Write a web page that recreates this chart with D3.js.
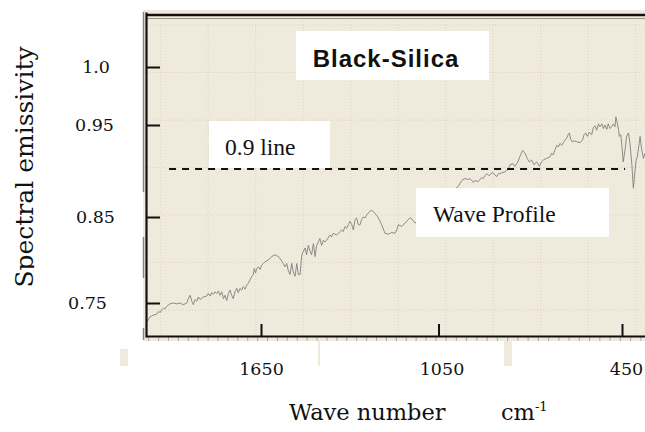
<!DOCTYPE html>
<html><head><meta charset="utf-8">
<script src="https://cdn.jsdelivr.net/npm/d3@7"></script>
<style>html,body{margin:0;padding:0;background:#fff;overflow:hidden}</style>
</head><body>
<svg id="c" width="645" height="432"></svg>
<script>
// ---- data ----
const chartTitle = "Black-Silica";
const seriesLabel = "Wave Profile";
const thresholdLabel = "0.9 line";
const yTitle = "Spectral emissivity";
const xTitle = "Wave number";
const xUnit = "cm";
const xUnitExp = "-1";
const yTickValues = [0.75, 0.85, 0.95, 1.0];
const yTickLabels = ["0.75", "0.85", "0.95", "1.0"];
const xTickValues = [1650, 1050, 450];
const xTickLabels = ["1650", "1050", "450"];
const thresholdValue = 0.9;
const thresholdFrom = 1961;
const thresholdTo = 440;
const waveNumber = [2036,2025,2014,2003,1997,1991,1986,1980,1975,1969,1958,1946,1935,1924,1913,1901,1896,1890,1884,1879,
1873,1867,1862,1856,1845,1834,1828,1822,1817,1811,1806,1800,1794,1789,1783,1777,1772,1766,1760,1755,
1749,1744,1738,1732,1727,1721,1715,1710,1704,1698,1693,1687,1681,1676,1673,1668,1665,1659,1653,1648,
1636,1625,1614,1603,1597,1592,1586,1575,1569,1563,1558,1552,1546,1541,1535,1529,1524,1518,1512,1507,
1501,1496,1490,1484,1479,1473,1467,1462,1456,1451,1445,1439,1434,1428,1417,1411,1406,1394,1383,1377,
1372,1366,1360,1355,1349,1343,1338,1332,1327,1321,1315,1310,1304,1298,1293,1282,1276,1265,1253,1242,
1231,1220,1208,1197,1191,1186,1174,1163,1152,1146,1141,1129,1112,1085,1058,1029,1006,985,980,971,
963,953,947,941,936,931,920,909,904,898,892,884,876,871,860,854,843,833,822,816,
807,800,792,784,775,767,760,753,745,738,729,720,713,705,696,685,680,675,669,663,
658,653,647,642,636,631,626,622,618,613,606,598,587,579,574,569,563,557,549,544,
538,533,527,522,516,511,506,500,495,489,484,478,473,470,465,461,459,454,450,446,
440,435,429,424,418,413,408,404,400,394,391,386,380,375];
const emissivity = [0.728,0.734,0.736,0.737,0.740,0.739,0.742,0.744,0.743,0.746,0.749,0.750,0.749,0.750,0.748,0.750,0.755,0.759,0.752,0.748,
0.754,0.752,0.757,0.754,0.757,0.758,0.761,0.758,0.762,0.760,0.763,0.761,0.764,0.759,0.763,0.755,0.759,0.753,0.761,0.765,
0.759,0.755,0.763,0.767,0.762,0.767,0.765,0.769,0.766,0.771,0.773,0.777,0.781,0.783,0.790,0.785,0.790,0.792,0.789,0.794,
0.798,0.800,0.804,0.806,0.805,0.804,0.802,0.796,0.792,0.796,0.788,0.783,0.796,0.786,0.781,0.796,0.783,0.783,0.806,0.810,
0.814,0.806,0.817,0.810,0.806,0.819,0.804,0.817,0.821,0.825,0.817,0.823,0.821,0.823,0.829,0.827,0.831,0.829,0.833,0.835,
0.833,0.839,0.837,0.841,0.845,0.841,0.835,0.847,0.849,0.841,0.841,0.847,0.850,0.849,0.852,0.856,0.857,0.854,0.849,0.841,
0.831,0.830,0.832,0.831,0.835,0.841,0.839,0.843,0.847,0.849,0.848,0.843,0.847,0.855,0.865,0.872,0.877,0.882,0.885,0.889,
0.890,0.889,0.890,0.888,0.886,0.888,0.887,0.891,0.890,0.893,0.895,0.893,0.896,0.896,0.892,0.895,0.896,0.897,0.900,0.905,
0.906,0.903,0.907,0.914,0.921,0.918,0.912,0.908,0.910,0.905,0.908,0.903,0.908,0.911,0.912,0.914,0.918,0.916,0.922,0.927,
0.925,0.929,0.927,0.930,0.933,0.935,0.939,0.941,0.934,0.931,0.932,0.931,0.930,0.933,0.939,0.941,0.937,0.942,0.939,0.947,
0.949,0.944,0.951,0.948,0.951,0.946,0.950,0.945,0.951,0.946,0.948,0.951,0.948,0.957,0.951,0.944,0.937,0.939,0.925,0.908,
0.922,0.937,0.941,0.929,0.906,0.880,0.897,0.910,0.914,0.929,0.937,0.922,0.912,0.918];

// ---- layout ----
const W = 645, H = 432;
const svg = d3.select("#c");
const x = d3.scaleLinear().domain([2039, 1650, 1050, 450, 375]).range([146, 261, 438.5, 622, 645]);
const y = d3.scaleLinear().domain([0.7105, 0.75, 0.85, 0.9, 0.95, 1.0, 1.0474]).range([337, 303, 217, 169, 125, 67, 12]);
const serif = "'DejaVu Serif', serif";
const times = "'Liberation Serif', 'Times New Roman', serif";

// paper background
svg.append("rect").attr("x", 143).attr("y", 10).attr("width", W - 143).attr("height", 331).attr("fill", "#f0eadc");
[[120, 349, 8, 17], [318, 341, 2, 25], [504, 341, 8, 25]].forEach(r =>
  svg.append("rect").attr("x", r[0]).attr("y", r[1]).attr("width", r[2]).attr("height", r[3]).attr("fill", "#f0eadc"));

// faint dotted grid of the paper
const grid = svg.append("g").attr("stroke", "#d3cbb9").attr("stroke-width", 0.8).attr("stroke-dasharray", "1,2");
d3.range(160.7, W, 47.5).forEach(gx => grid.append("line").attr("x1", gx).attr("x2", gx).attr("y1", 18).attr("y2", 336));
d3.range(25, 336, 47.5).forEach(gy => grid.append("line").attr("x1", 147).attr("x2", W).attr("y1", gy).attr("y2", gy));

// series line
const pts = waveNumber.map((w, i) => [w, emissivity[i]]);
svg.append("path").datum(pts)
  .attr("d", d3.line().x(d => x(d[0])).y(d => y(d[1])))
  .attr("fill", "none").attr("stroke", "#808080").attr("stroke-width", 0.9).attr("stroke-linejoin", "round");

// white label boxes
function box(x0, y0, x1, y1) {
  svg.append("rect").attr("x", x0).attr("y", y0).attr("width", x1 - x0).attr("height", y1 - y0).attr("fill", "#fff");
}
box(296, 31, 489, 80);
svg.append("text").attr("x", 386).attr("y", 66.5).attr("text-anchor", "middle")
  .attr("font-family", "'Liberation Sans', Arial, sans-serif").attr("font-weight", "bold")
  .attr("font-size", 24).attr("letter-spacing", 1).attr("fill", "#111").text(chartTitle);
box(209, 121, 330, 168);
svg.append("text").attr("x", 225).attr("y", 155).attr("font-family", times).attr("font-size", 23.5).attr("fill", "#111").text(thresholdLabel);
box(416, 188, 609, 237);
svg.append("text").attr("x", 433).attr("y", 222).attr("font-family", times).attr("font-size", 23.5).attr("fill", "#111").text(seriesLabel);

// threshold dashed line
svg.append("line").attr("x1", x(thresholdFrom)).attr("x2", x(thresholdTo))
  .attr("y1", y(thresholdValue)).attr("y2", y(thresholdValue))
  .attr("stroke", "#111").attr("stroke-width", 2).attr("stroke-dasharray", "7,6");

// top frame line
svg.append("line").attr("x1", 146).attr("x2", W).attr("y1", 15).attr("y2", 15).attr("stroke", "#111").attr("stroke-width", 2.5);
svg.append("line").attr("x1", 146).attr("x2", W).attr("y1", 18.5).attr("y2", 18.5).attr("stroke", "#9a9588").attr("stroke-width", 1);
// grey scan marks left of the axis
[[12, 192], [237, 278], [328, 340]].forEach(s =>
  svg.append("line").attr("x1", 143.5).attr("x2", 143.5).attr("y1", s[0]).attr("y2", s[1]).attr("stroke", "#8a857a").attr("stroke-width", 1.5));

// bottom minor ticks
svg.append("g").selectAll("line").data(d3.range(2030, 376, -33.5)).join("line")
  .attr("x1", d => x(d)).attr("x2", d => x(d)).attr("y1", 337).attr("y2", 341)
  .attr("stroke", "#999").attr("stroke-width", 0.8);

// y axis
const yNudge = {"1.0": -4, "0.75": -7, "0.85": 1};
const gy = svg.append("g").attr("transform", "translate(146,0)")
  .call(d3.axisLeft(y).tickValues(yTickValues).tickFormat((d, i) => yTickLabels[i])
    .tickSizeInner(-14).tickSizeOuter(0).tickPadding(32));
gy.select(".domain").attr("stroke", "#111").attr("stroke-width", 2.2);
gy.selectAll(".tick line").attr("stroke", "#111").attr("stroke-width", 2);
gy.selectAll(".tick text").attr("font-family", serif).attr("font-size", 17.5).attr("fill", "#111")
  .attr("dx", (d, i) => yNudge[yTickLabels[i]] || 0);

// x axis
const xNudge = {"1050": 3, "450": 4};
const gx = svg.append("g").attr("transform", "translate(0,336)")
  .call(d3.axisBottom(x).tickValues(xTickValues).tickFormat((d, i) => xTickLabels[i])
    .tickSizeInner(-12).tickSizeOuter(0).tickPadding(27));
gx.select(".domain").attr("stroke", "#111").attr("stroke-width", 2);
gx.selectAll(".tick line").attr("stroke", "#111").attr("stroke-width", 2);
gx.selectAll(".tick text").attr("font-family", serif).attr("font-size", 17.5).attr("fill", "#111")
  .attr("dx", (d, i) => xNudge[xTickLabels[i]] || 0);

// axis titles
const xt = svg.append("text").attr("x", 289).attr("y", 420).attr("font-family", serif).attr("font-size", 22.5).attr("fill", "#111");
xt.append("tspan").text(xTitle);
xt.append("tspan").attr("x", 501).text(xUnit);
xt.append("tspan").attr("dy", -9).attr("font-size", 13).text(xUnitExp);

const yg = svg.append("g").attr("transform", "translate(33,167) rotate(-90)");
const ytxt = yg.append("text").attr("text-anchor", "middle").attr("font-family", serif).attr("font-size", 25).attr("fill", "#111").text(yTitle);
// the descender of the "p" is masked in the reference
const tn = ytxt.node();
const total = tn.getComputedTextLength();
const before = tn.getSubStringLength(0, 1);
const pw = tn.getSubStringLength(1, 1);
yg.append("rect").attr("x", -total / 2 + before - 0.5).attr("y", 1.2)
  .attr("width", pw + 1).attr("height", 10).attr("fill", "#fff");
</script>
</body></html>
